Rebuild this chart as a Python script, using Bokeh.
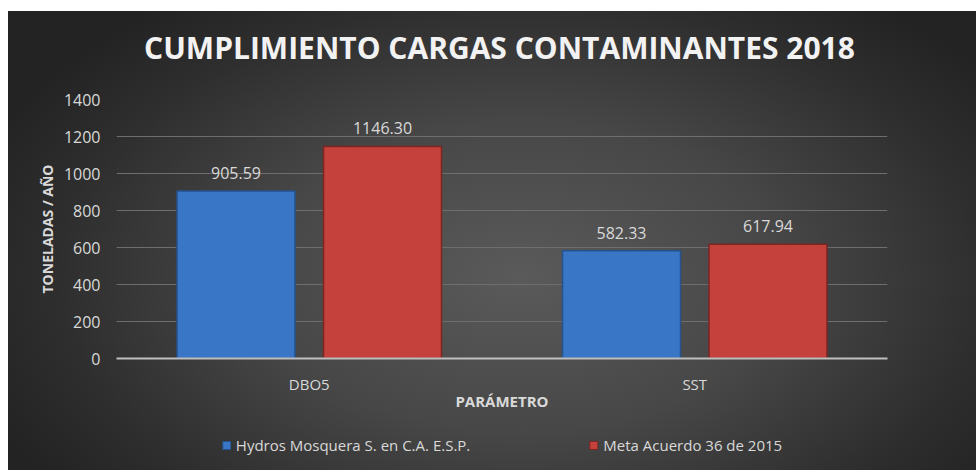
from bokeh.plotting import figure
from bokeh.layouts import column
from bokeh.models import (ColumnDataSource, FactorRange, Legend, LegendItem, LabelSet,
                          FixedTicker, Range1d, Label)
from bokeh.core.properties import value
from bokeh.transform import dodge
from bokeh.embed import file_html
from bokeh.resources import INLINE

# ---- data ----
parametros = ["DBO5", "SST"]
hydros = [905.59, 582.33]
meta = [1146.30, 617.94]
series_names = ["Hydros Mosquera S. en C.A. E.S.P.", "Meta Acuerdo 36 de 2015"]
y_ticks = [0, 200, 400, 600, 800, 1000, 1200, 1400]
title_text = "CUMPLIMIENTO CARGAS CONTAMINANTES 2018"
x_label = "PARÁMETRO"
y_label = "TONELADAS / AÑO"

FONT = "Open Sans"
TXT = "#d9d9d9"
BLUE, BLUE_EDGE = "#3a76c6", "#24528f"
RED, RED_EDGE = "#c4413c", "#7e2521"
W = 968


def bare(fig):
    fig.border_fill_alpha = 0
    fig.background_fill_alpha = 0
    fig.outline_line_color = None
    fig.grid.grid_line_color = None


src = ColumnDataSource(dict(
    p=parametros, h=hydros, m=meta,
    hl=[f"{v:.2f}" for v in hydros],
    ml=[f"{v:.2f}" for v in meta],
))

# ---- title strip (its frame is aligned with the chart's frame by the column) ----
p0 = figure(width=W, height=60, output_backend="svg", toolbar_location=None,
            x_range=Range1d(0, 1), y_range=Range1d(0, 1),
            x_axis_location=None, y_axis_location=None,
            min_border_left=0, min_border_right=0, min_border_top=0, min_border_bottom=0)
bare(p0)
p0.add_layout(Label(x=383, y=24, x_units="screen", y_units="screen", text=title_text,
                    text_align="center", text_baseline="middle",
                    text_font=FONT, text_font_size="30px", text_font_style="bold",
                    text_color="#f2f2f2"))

# ---- main chart ----
p = figure(
    x_range=FactorRange(*parametros, range_padding=0),
    y_range=(0, 1400),
    width=W, height=349,
    output_backend="svg", toolbar_location=None,
    min_border_left=108, min_border_right=89,
    min_border_top=28, min_border_bottom=62,
)
bare(p)

rb = p.vbar(x=dodge("p", -0.19, range=p.x_range), top="h", width=0.306, source=src,
            fill_color=BLUE, line_color=BLUE_EDGE, line_width=1.5)
rr = p.vbar(x=dodge("p", 0.19, range=p.x_range), top="m", width=0.306, source=src,
            fill_color=RED, line_color=RED_EDGE, line_width=1.5)

for col, ycol, off in (("hl", "h", -0.19), ("ml", "m", 0.19)):
    p.add_layout(LabelSet(x=dodge("p", off, range=p.x_range), y=ycol, text=col, source=src,
                          text_align="center", text_baseline="bottom", y_offset=12,
                          text_color=TXT, text_font=value(FONT), text_font_size="16px"))

p.yaxis.ticker = FixedTicker(ticks=y_ticks)
p.yaxis.axis_line_color = None
p.yaxis.major_tick_line_color = None
p.yaxis.minor_tick_line_color = None
p.yaxis.major_label_text_color = TXT
p.yaxis.major_label_text_font = FONT
p.yaxis.major_label_text_font_size = "16px"
p.yaxis.major_label_standoff = 10
p.yaxis.axis_label = y_label
p.yaxis.axis_label_text_font = FONT
p.yaxis.axis_label_text_font_size = "14px"
p.yaxis.axis_label_text_font_style = "bold"
p.yaxis.axis_label_text_color = TXT
p.yaxis.axis_label_standoff = 4

p.xaxis.axis_line_color = "#bfbfbf"
p.xaxis.axis_line_width = 2
p.xaxis.major_tick_line_color = None
p.xaxis.minor_tick_line_color = None
p.xaxis.major_label_text_color = TXT
p.xaxis.major_label_text_font = FONT
p.xaxis.major_label_text_font_size = "15px"
p.xaxis.major_label_standoff = 9
p.xaxis.axis_label = x_label
p.xaxis.axis_label_text_font = FONT
p.xaxis.axis_label_text_font_size = "15px"
p.xaxis.axis_label_text_font_style = "bold"
p.xaxis.axis_label_text_color = TXT
p.xaxis.axis_label_standoff = -6

p.ygrid.grid_line_color = "#6e6e6e"
p.ygrid.grid_line_width = 1

# ---- legend strip; its bars lie outside its view ----
p2 = figure(width=W, height=50, output_backend="svg", toolbar_location=None,
            x_range=FactorRange(*parametros), y_range=Range1d(5000, 6000),
            x_axis_location=None, y_axis_location=None,
            min_border_left=16, min_border_right=0, min_border_top=0, min_border_bottom=0)
bare(p2)
lb = p2.vbar(x="p", top="h", width=0.3, source=src, fill_color=BLUE, line_color=BLUE_EDGE)
lr = p2.vbar(x="p", top="m", width=0.3, source=src, fill_color=RED, line_color=RED_EDGE)

legend = Legend(items=[LegendItem(label=series_names[0], renderers=[lb]),
                       LegendItem(label=series_names[1], renderers=[lr])],
                orientation="horizontal", location="center",
                spacing=118, glyph_width=10, glyph_height=10, label_standoff=5,
                label_text_color=TXT, label_text_font=FONT, label_text_font_size="15px",
                background_fill_alpha=0, border_line_color=None, margin=0, padding=4)
p2.add_layout(legend, "center")

layout = column(p0, p, p2, spacing=0)
layout.margin = (11, 0, 0, 8)
layout.styles = {
    "background": "radial-gradient(ellipse 60% 75% at 53% 58%, #5a5a5a 0%, #474747 45%, #2e2e2e 80%, #232323 100%)"
}

open("out.html", "w").write(file_html(layout, INLINE))
